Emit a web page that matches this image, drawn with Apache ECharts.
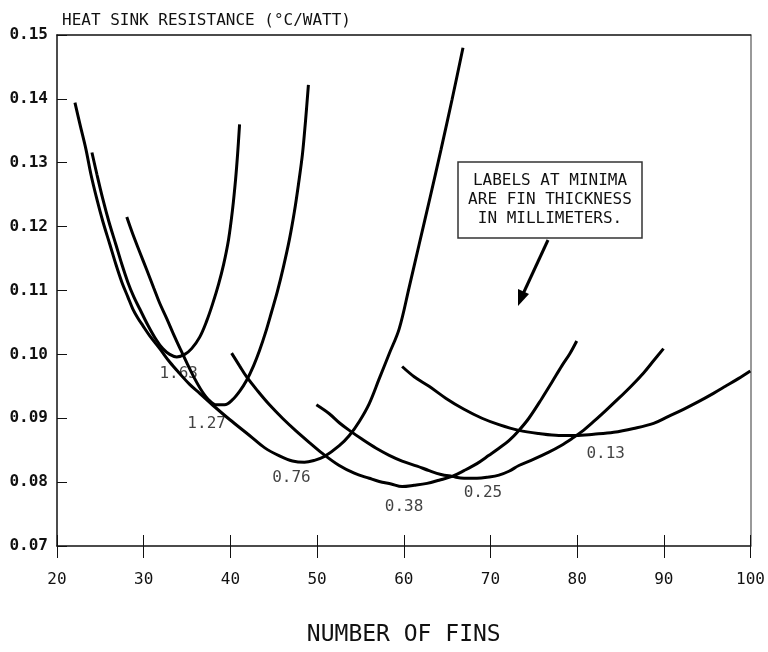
<!DOCTYPE html>
<html>
<head>
<meta charset="utf-8">
<script src="https://cdn.jsdelivr.net/npm/echarts@6/dist/echarts.min.js"></script>
<style>
html,body{margin:0;padding:0;background:#fff;}
#chart{width:768px;height:652px;}
</style>
</head>
<body>
<div id="chart"></div>
<script>
// ---- data ----
const xTicks = [20, 30, 40, 50, 60, 70, 80, 90, 100];
const yTicks = [0.07, 0.08, 0.09, 0.10, 0.11, 0.12, 0.13, 0.14, 0.15];

// fin thickness 1.63 mm
const fins163 = [24.03,24.60,25.29,25.98,26.79,27.48,28.17,28.86,29.55,30.47,31.39,32.20,33.00,33.81,34.73,35.53,36.46,37.26,37.95,38.64,39.22,39.79,40.25,40.60,40.83,41.06];
const res163  = [0.1316,0.1282,0.1243,0.1208,0.1172,0.1141,0.1113,0.1090,0.1071,0.1046,0.1024,0.1009,0.1000,0.0996,0.1000,0.1009,0.1027,0.1052,0.1079,0.1110,0.1141,0.1180,0.1227,0.1274,0.1313,0.1360];

// fin thickness 1.27 mm
const fins127 = [28.05,28.75,29.55,30.36,31.16,31.85,32.66,33.46,34.27,35.07,35.88,36.69,37.49,38.41,39.33,40.25,41.06,41.86,42.67,43.36,44.05,44.74,45.43,46.12,46.81,47.39,47.85,48.31,48.65,49.00];
const res127  = [0.1215,0.1188,0.1160,0.1132,0.1104,0.1080,0.1056,0.1031,0.1007,0.0984,0.0962,0.0943,0.0929,0.0921,0.0921,0.0929,0.0942,0.0959,0.0982,0.1006,0.1034,0.1066,0.1099,0.1137,0.1180,0.1224,0.1266,0.1313,0.1363,0.1422];

// fin thickness 0.76 mm
const fins076 = [22.07,22.65,23.34,23.91,24.60,25.29,26.10,26.79,27.48,28.17,28.75,29.32,29.90,30.70,31.85,33.00,34.15,35.30,36.46,38.18,39.91,42.21,43.93,45.66,47.16,48.54,49.69,50.84,52.56,53.72,54.87,56.02,57.17,58.32,59.47,60.62,61.77,63.04,64.30,65.57,66.83];
const res076  = [0.1394,0.1360,0.1321,0.1282,0.1243,0.1208,0.1172,0.1141,0.1113,0.1090,0.1071,0.1057,0.1045,0.1029,0.1009,0.0988,0.0970,0.0953,0.0939,0.0918,0.0898,0.0873,0.0854,0.0841,0.0833,0.0831,0.0834,0.0840,0.0857,0.0873,0.0895,0.0923,0.0962,0.1001,0.1040,0.1105,0.1172,0.1246,0.1321,0.1399,0.1480];

// fin thickness 0.38 mm
const fins038 = [40.14,41.06,41.86,43.13,44.51,46.01,47.50,49.11,50.61,52.56,54.29,56.02,57.17,58.55,59.81,61.20,62.69,64.07,65.57,66.95,68.44,69.83,70.98,72.13,73.28,74.43,75.93,77.07,78.23,79.15,79.95];
const res038  = [0.1002,0.0982,0.0965,0.0943,0.0921,0.0900,0.0881,0.0862,0.0845,0.0826,0.0814,0.0806,0.0801,0.0797,0.0793,0.0795,0.0798,0.0803,0.0809,0.0818,0.0829,0.0842,0.0853,0.0865,0.0881,0.0900,0.0931,0.0956,0.0982,0.1001,0.1021];

// fin thickness 0.25 mm
const fins025 = [49.92,51.41,52.56,53.72,55.21,56.82,58.32,59.81,61.54,62.92,64.30,65.57,66.95,68.44,69.83,70.98,72.13,73.28,75.00,76.73,78.11,79.38,80.53,81.91,83.29,84.78,86.28,87.66,88.81,89.96];
const res025  = [0.0921,0.0907,0.0893,0.0881,0.0867,0.0853,0.0842,0.0833,0.0825,0.0818,0.0812,0.0809,0.0806,0.0806,0.0808,0.0811,0.0817,0.0826,0.0836,0.0847,0.0857,0.0868,0.0879,0.0895,0.0912,0.0931,0.0951,0.0971,0.0990,0.1009];

// fin thickness 0.13 mm
const fins013 = [59.81,61.20,62.92,64.88,66.95,69.02,70.98,73.28,75.58,77.88,79.84,81.91,84.21,86.51,88.81,90.54,92.26,93.99,95.72,97.10,98.59,99.97];
const res013  = [0.0981,0.0965,0.0950,0.0931,0.0914,0.0900,0.0890,0.0881,0.0876,0.0873,0.0873,0.0875,0.0878,0.0884,0.0892,0.0903,0.0914,0.0926,0.0939,0.0950,0.0962,0.0974];

// labels at minima (fin thickness, mm) and where they sit
const minLabels = ['1.63', '1.27', '0.76', '0.38', '0.25', '0.13'];
const labelFins = [34.04, 37.26, 47.04, 60.04, 69.13, 83.29];
const labelRes  = [0.0970, 0.0892, 0.0806, 0.0762, 0.0783, 0.0845];

const yTitle = 'HEAT SINK RESISTANCE (°C/WATT)';
const xTitle = 'NUMBER OF FINS';
const noteLines = ['LABELS AT MINIMA', 'ARE FIN THICKNESS', 'IN MILLIMETERS.'];

// ---- build ----
const zip = (xs, ys) => xs.map((x, i) => [x, ys[i]]);
const curves = [
  zip(fins163, res163), zip(fins127, res127), zip(fins076, res076),
  zip(fins038, res038), zip(fins025, res025), zip(fins013, res013)
];
const MONO = '"DejaVu Sans Mono", "Liberation Mono", monospace';

const chart = echarts.init(document.getElementById('chart'), null, {renderer: 'canvas'});

const lineSeries = curves.map((d, i) => ({
  type: 'line',
  name: minLabels[i],
  data: d,
  smooth: 0.35,
  showSymbol: false,
  symbol: 'none',
  lineStyle: {color: '#000', width: 3},
  z: 3,
  silent: true
}));

const labelSeries = {
  type: 'scatter',
  symbolSize: 0,
  data: minLabels.map((t, i) => ({name: t, value: [labelFins[i], labelRes[i]]})),
  label: {
    show: true, position: 'inside', formatter: '{b}',
    fontFamily: MONO, fontSize: 16, color: '#111'
  },
  z: 2,
  silent: true
};

const base = {min: 20, max: 100, interval: 10, type: 'value', splitLine: {show: false}};

chart.setOption({
  animation: false,
  backgroundColor: '#fff',
  grid: {left: 57, top: 35, width: 695, height: 513, containLabel: false},
  title: {
    text: yTitle, left: 57, top: 8,
    textStyle: {fontFamily: MONO, fontSize: 16, fontWeight: 'normal', color: '#111'}
  },
  xAxis: [
    Object.assign({}, base, {
      position: 'bottom',
      name: xTitle, nameLocation: 'middle', nameGap: 78,
      nameTextStyle: {fontFamily: MONO, fontSize: 23, color: '#111'},
      axisLine: {show: true, lineStyle: {color: '#111', width: 1.5}},
      axisTick: {show: true, inside: true, length: 11, lineStyle: {color: '#111', width: 1}},
      axisLabel: {show: true, margin: 26, fontFamily: MONO, fontSize: 16, color: '#111',
        formatter: v => String(v)}
    }),
    Object.assign({}, base, {
      position: 'bottom',
      axisLine: {show: false},
      axisTick: {show: true, inside: false, length: 12, lineStyle: {color: '#111', width: 1}},
      axisLabel: {show: false}
    }),
    Object.assign({}, base, {
      position: 'top',
      axisLine: {show: true, lineStyle: {color: '#111', width: 1.5}},
      axisTick: {show: false}, axisLabel: {show: false}
    })
  ],
  yAxis: [
    {
      type: 'value', min: 0.07, max: 0.15, interval: 0.01, position: 'left',
      splitLine: {show: false},
      axisLine: {show: true, lineStyle: {color: '#111', width: 1.5}},
      axisTick: {show: true, inside: true, length: 10, lineStyle: {color: '#111', width: 1}},
      axisLabel: {show: true, margin: 9, fontFamily: MONO, fontSize: 16, fontWeight: 'bold',
        color: '#111', formatter: v => v.toFixed(2)}
    },
    {
      type: 'value', min: 0.07, max: 0.15, interval: 0.01, position: 'right',
      splitLine: {show: false},
      axisLine: {show: true, lineStyle: {color: '#777', width: 1.5}},
      axisTick: {show: false}, axisLabel: {show: false}
    }
  ],
  series: lineSeries.concat([labelSeries]),
  graphic: [
    {
      type: 'rect', shape: {x: 458, y: 162, width: 184, height: 76},
      style: {fill: '#fff', stroke: '#333', lineWidth: 1.5}, z: 10
    },
    {
      type: 'text', x: 550, y: 200, z: 11,
      style: {
        text: noteLines.join('\n'), fontFamily: MONO, fontSize: 16, lineHeight: 19,
        fill: '#111', align: 'center', verticalAlign: 'middle'
      }
    },
    {
      type: 'line', shape: {x1: 548, y1: 240, x2: 523, y2: 294},
      style: {stroke: '#000', lineWidth: 3}, z: 10
    },
    {
      type: 'polygon', shape: {points: [[518, 306], [529, 294], [518, 289]]},
      style: {fill: '#000'}, z: 10
    }
  ]
});
</script>
</body>
</html>
